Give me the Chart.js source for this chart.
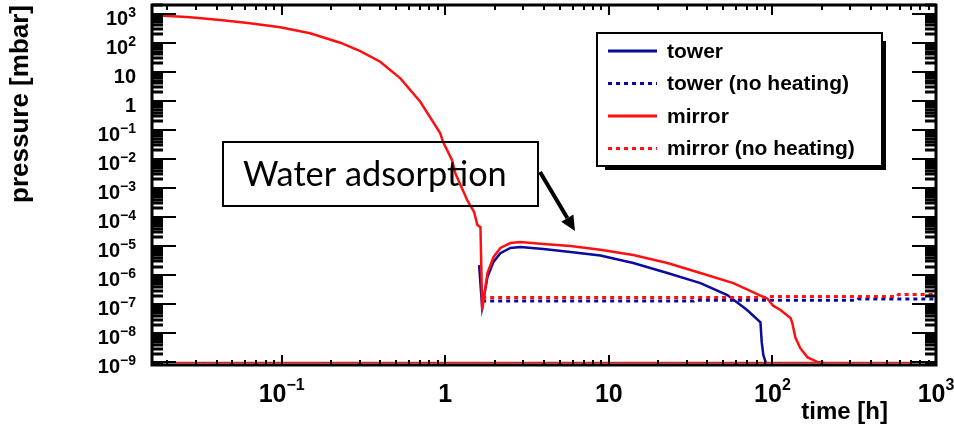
<!DOCTYPE html>
<html>
<head>
<meta charset="utf-8">
<script src="https://cdn.jsdelivr.net/npm/chart.js@4.4.1/dist/chart.umd.min.js"></script>
<style>
  html, body { margin: 0; padding: 0; background: #fff; }
  canvas { display: block; }
</style>
</head>
<body>
<canvas id="chart" width="954" height="427"></canvas>
<script>
// time [h] / pressure [mbar]
var towerT = [1.61, 1.68, 1.81, 1.97, 2.17, 2.5, 2.88, 3.98, 5.82, 8.87, 14.1, 22.8, 36.3, 53, 70, 84.5, 86, 88, 91];
var towerP = [2.25e-6, 8.1e-8, 8.7e-7, 2.9e-6, 5.8e-6, 8.7e-6, 9.4e-6, 8.0e-6, 6.3e-6, 4.8e-6, 2.64e-6, 1.2e-6, 5.4e-7, 2.1e-7, 6.4e-8, 2.4e-8, 5e-9, 1.8e-9, 1e-9];

var towerNhT = [1.68, 33, 33.5, 330, 335, 1000];
var towerNhP = [1.3e-7, 1.3e-7, 1.38e-7, 1.38e-7, 1.52e-7, 1.52e-7];

var mirrorT = [0.0161, 0.0275, 0.042, 0.064, 0.098, 0.149, 0.228, 0.302, 0.40, 0.531, 0.703, 0.93, 0.97, 1.10, 1.15, 1.36, 1.50, 1.57, 1.64, 1.66, 1.68,
               1.81, 1.97, 2.17, 2.5, 2.88, 3.98, 5.82, 8.87, 14.1, 22.8, 36.3, 57.7, 84.5, 93, 101, 112, 129, 132, 138, 148, 164, 188, 205];
var mirrorP = [904, 753, 608, 468, 341, 212, 101, 52, 22.3, 6.0, 0.94, 0.0785, 0.0385, 0.0092, 0.0033, 3.9e-4, 1.5e-4, 5.4e-5, 4.5e-5, 2e-6, 6.4e-8,
               1.2e-6, 4.2e-6, 8.7e-6, 1.29e-5, 1.4e-5, 1.19e-5, 1.02e-5, 7.6e-6, 5.0e-6, 2.64e-6, 1.2e-6, 5.4e-7, 2.0e-7, 1.6e-7, 9e-8, 6.4e-8, 3.4e-8, 2.4e-8, 7.4e-9, 3.1e-9, 1.5e-9, 1.05e-9, 1e-9];

var mirrorNhT = [1.68, 90, 92, 580, 590, 1000];
var mirrorNhP = [1.72e-7, 1.72e-7, 1.85e-7, 1.85e-7, 2.2e-7, 2.2e-7];

// empty bins of the mirror histogram sit on the floor
var floorT = [0.0161, 1000];
var floorP = [1e-9, 1e-9];

var xTicks = [0.1, 1, 10, 100, 1000];
var xTickLabels = [['10', '\u22121'], ['1', ''], ['10', ''], ['10', '2'], ['10', '3']];
var yTicks = [1e-9, 1e-8, 1e-7, 1e-6, 1e-5, 1e-4, 1e-3, 1e-2, 1e-1, 1, 10, 100, 1000];
var yTickLabels = [['10', '\u22129'], ['10', '\u22128'], ['10', '\u22127'], ['10', '\u22126'], ['10', '\u22125'], ['10', '\u22124'],
                   ['10', '\u22123'], ['10', '\u22122'], ['10', '\u22121'], ['1', ''], ['10', ''], ['10', '2'], ['10', '3']];

var BLUE = '#0a0a9e';
var RED = '#ff1010';

function pts(t, p) {
  var out = [];
  for (var i = 0; i < t.length; i++) out.push({x: t[i], y: p[i]});
  return out;
}

var legendItems = [
  {label: 'tower', color: BLUE, dash: []},
  {label: 'tower (no heating)', color: BLUE, dash: [4, 4]},
  {label: 'mirror', color: RED, dash: []},
  {label: 'mirror (no heating)', color: RED, dash: [4, 4]}
];

function drawPow(ctx, base, exp, x, y, align, bf, sf, rise) {
  ctx.font = bf;
  var wb = ctx.measureText(base).width;
  ctx.font = sf;
  var ws = exp ? ctx.measureText(exp).width : 0;
  var total = wb + ws;
  var x0 = align === 'right' ? x - total : x - total / 2;
  ctx.textAlign = 'left';
  ctx.textBaseline = 'alphabetic';
  ctx.font = bf;
  ctx.fillText(base, x0, y);
  if (exp) {
    ctx.font = sf;
    ctx.fillText(exp, x0 + wb, y - rise);
  }
}

var rootFrame = {
  id: 'rootFrame',
  afterDatasetsDraw: function(chart) {
    var ctx = chart.ctx, a = chart.chartArea;
    var xs = chart.scales.x, ys = chart.scales.y;
    ctx.save();
    ctx.fillStyle = '#000';
    ctx.strokeStyle = '#000';

    // tick marks, inside the frame on all four sides
    var e, m, v, p, len;
    ctx.lineWidth = 2;
    ctx.beginPath();
    for (e = -2; e <= 3; e++) {
      for (m = 1; m <= 9; m++) {
        v = m * Math.pow(10, e);
        if (v < xs.min || v > xs.max) continue;
        p = Math.round(xs.getPixelForValue(v));
        len = m === 1 ? 10 : 5;
        ctx.moveTo(p, a.bottom); ctx.lineTo(p, a.bottom - len);
        ctx.moveTo(p, a.top); ctx.lineTo(p, a.top + len);
      }
    }
    ctx.stroke();
    for (e = -10; e <= 3; e++) {
      for (m = 1; m <= 9; m++) {
        v = m * Math.pow(10, e);
        if (v < ys.min || v > ys.max) continue;
        p = Math.round(ys.getPixelForValue(v));
        len = m === 1 ? 24 : 11;
        ctx.lineWidth = m === 1 ? 2 : 3;
        ctx.beginPath();
        ctx.moveTo(a.left, p); ctx.lineTo(a.left + len, p);
        ctx.moveTo(a.right, p); ctx.lineTo(a.right - len, p);
        ctx.stroke();
      }
    }

    ctx.lineWidth = 3;
    ctx.strokeRect(a.left, a.top, a.right - a.left, a.bottom - a.top);

    // tick labels
    var i;
    for (i = 0; i < yTicks.length; i++) {
      p = ys.getPixelForValue(yTicks[i]);
      drawPow(ctx, yTickLabels[i][0], yTickLabels[i][1], 136, p + 11, 'right', 'bold 20px "Liberation Sans"', 'bold 14px "Liberation Sans"', 8);
    }
    for (i = 0; i < xTicks.length; i++) {
      p = xs.getPixelForValue(xTicks[i]);
      drawPow(ctx, xTickLabels[i][0], xTickLabels[i][1], p, 402, 'center', 'bold 25px "Liberation Sans"', 'bold 16px "Liberation Sans"', 12);
    }

    // axis titles
    ctx.font = 'bold 24px "Liberation Sans"';
    ctx.textAlign = 'right';
    ctx.textBaseline = 'alphabetic';
    ctx.fillText('time [h]', 888, 419);
    ctx.save();
    ctx.translate(28, 5);
    ctx.rotate(-Math.PI / 2);
    ctx.font = 'bold 26px "Liberation Sans"';
    ctx.fillText('pressure [mbar]', 0, 0);
    ctx.restore();

    // legend box with shadow
    var lx = 597, ly = 33, lw = 285, lh = 133;
    ctx.fillRect(lx + lw, ly + 8, 4, lh - 4);
    ctx.fillRect(lx + 8, ly + lh, lw - 4, 4);
    ctx.fillStyle = '#fff';
    ctx.fillRect(lx, ly, lw, lh);
    ctx.lineWidth = 2;
    ctx.strokeRect(lx, ly, lw, lh);
    ctx.font = 'bold 21px "Liberation Sans"';
    ctx.textAlign = 'left';
    ctx.textBaseline = 'middle';
    ctx.fillStyle = '#000';
    for (i = 0; i < legendItems.length; i++) {
      var yy = ly + 18 + i * 32.5;
      ctx.save();
      ctx.strokeStyle = legendItems[i].color;
      ctx.lineWidth = 3;
      ctx.setLineDash(legendItems[i].dash);
      ctx.beginPath();
      ctx.moveTo(lx + 11, yy); ctx.lineTo(lx + 60, yy);
      ctx.stroke();
      ctx.restore();
      ctx.fillText(legendItems[i].label, lx + 70, yy + 1);
    }

    // "Water adsorption" note and arrow
    ctx.lineWidth = 2;
    ctx.strokeStyle = '#000';
    ctx.strokeRect(223, 142, 315, 64);
    var txt = 'Water adsorption';
    ctx.font = '30px Lato';
    var fs = 30 * 264 / ctx.measureText(txt).width;
    ctx.font = fs.toFixed(1) + 'px Lato';
    ctx.textBaseline = 'alphabetic';
    ctx.fillText(txt, 243, 186);

    var x1 = 540, y1 = 172, x2 = 575, y2 = 231;
    var ang = Math.atan2(y2 - y1, x2 - x1);
    var hl = 15, hw = 7;
    var bx = x2 - hl * Math.cos(ang), by = y2 - hl * Math.sin(ang);
    ctx.lineWidth = 4;
    ctx.beginPath();
    ctx.moveTo(x1, y1); ctx.lineTo(bx, by);
    ctx.stroke();
    ctx.beginPath();
    ctx.moveTo(x2, y2);
    ctx.lineTo(bx + hw * Math.sin(ang), by - hw * Math.cos(ang));
    ctx.lineTo(bx - hw * Math.sin(ang), by + hw * Math.cos(ang));
    ctx.closePath();
    ctx.fill();

    ctx.restore();
  }
};

Chart.defaults.font.family = '"Liberation Sans", Arial, sans-serif';

new Chart(document.getElementById('chart'), {
  type: 'line',
  data: {
    datasets: [
      {label: 'mirror', data: pts(mirrorT, mirrorP), borderColor: RED, borderWidth: 2.5, order: 0},
      {label: 'mirror (no heating)', data: pts(mirrorNhT, mirrorNhP), borderColor: RED, borderWidth: 3, borderDash: [4, 4], order: 1},
      {label: 'tower', data: pts(towerT, towerP), borderColor: BLUE, borderWidth: 2.5, order: 2},
      {label: 'tower (no heating)', data: pts(towerNhT, towerNhP), borderColor: BLUE, borderWidth: 3, borderDash: [4, 4], order: 3},
      {label: '', data: pts(floorT, floorP), borderColor: RED, borderWidth: 1.5, order: 4}
    ]
  },
  options: {
    responsive: false,
    animation: false,
    devicePixelRatio: 1,
    events: [],
    layout: {padding: {left: 152, right: 18, top: 5, bottom: 62}},
    elements: {
      point: {radius: 0},
      line: {tension: 0, fill: false, borderCapStyle: 'butt'}
    },
    scales: {
      x: {type: 'logarithmic', min: 0.0161, max: 1000, bounds: 'data', display: false},
      y: {type: 'logarithmic', min: 8.2e-10, max: 2000, bounds: 'data', display: false}
    },
    plugins: {
      legend: {display: false},
      tooltip: {enabled: false}
    }
  },
  plugins: [rootFrame]
});
</script>
</body>
</html>
